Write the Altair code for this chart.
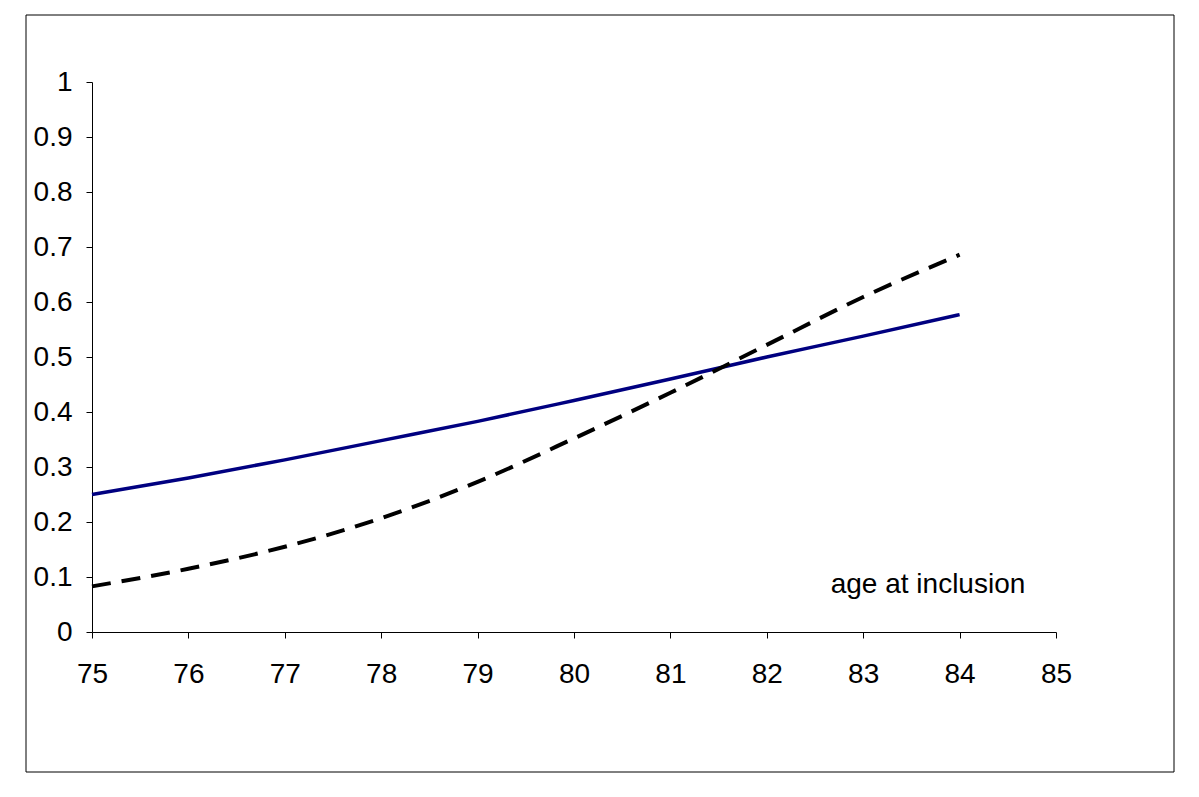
import altair as alt
import pandas as pd

ages = [75, 76, 77, 78, 79, 80, 81, 82, 83, 84]
solid_vals = [0.250, 0.280, 0.313, 0.348, 0.383, 0.421, 0.460, 0.500, 0.538, 0.577]
dashed_vals = [0.083, 0.115, 0.155, 0.207, 0.273, 0.352, 0.435, 0.522, 0.609, 0.686]
x_ticks = [75, 76, 77, 78, 79, 80, 81, 82, 83, 84, 85]
y_ticks = [0, 0.1, 0.2, 0.3, 0.4, 0.5, 0.6, 0.7, 0.8, 0.9, 1]
annotation = "age at inclusion"

df = pd.DataFrame({
    "age": ages * 2,
    "value": solid_vals + dashed_vals,
    "series": ["solid"] * len(ages) + ["dashed"] * len(ages),
})

FONT = "Liberation Sans"
FS = 28

x_enc = alt.X("age:Q", scale=alt.Scale(domain=[75, 85], nice=False, zero=False),
              axis=alt.Axis(values=x_ticks, title=None, grid=False, format="d",
                            tickSize=6, labelPadding=22, labelFontSize=FS,
                            labelFont=FONT, labelColor="black", domainColor="black",
                            tickColor="black", labelFlush=False))
y_enc = alt.Y("value:Q", scale=alt.Scale(domain=[0, 1], nice=False),
              axis=alt.Axis(values=y_ticks, title=None, grid=False, format=".1~f",
                            tickSize=6, labelPadding=14, labelFontSize=FS,
                            labelFont=FONT, labelColor="black", domainColor="black",
                            tickColor="black", labelFlush=False))

base = alt.Chart(df).encode(x=x_enc, y=y_enc)

solid = base.transform_filter(alt.datum.series == "solid").mark_line(
    color="#000080", strokeWidth=3.5, interpolate="monotone"
)

dashed = base.transform_filter(alt.datum.series == "dashed").mark_line(
    color="black", strokeWidth=4, strokeDash=[19, 11], interpolate="monotone"
)

label = alt.Chart(pd.DataFrame({"t": [annotation]})).mark_text(
    font=FONT, fontSize=FS, color="black", align="center", baseline="middle"
).encode(text="t:N", x=alt.value(836), y=alt.value(503))

border = alt.Chart(pd.DataFrame({"a": [0]})).mark_rect(
    fill=None, stroke="black", strokeWidth=1
).encode(x=alt.value(-66), x2=alt.value(1082), y=alt.value(-67), y2=alt.value(690))

chart = alt.layer(border, solid, dashed, label).properties(
    width=964, height=550,
    autosize=alt.AutoSizeParams(type="none"),
    padding={"left": 84, "top": 74, "right": 120, "bottom": 150},
).configure_view(strokeWidth=0)

chart.save("out.html", embed_options={"renderer": "svg", "actions": False})
